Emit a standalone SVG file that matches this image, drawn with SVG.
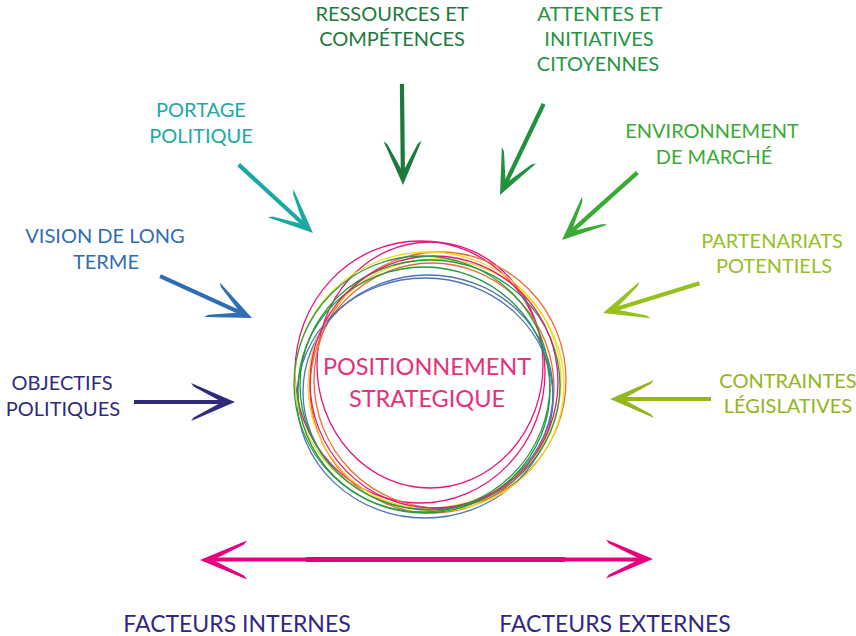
<svg xmlns="http://www.w3.org/2000/svg" xmlns:xlink="http://www.w3.org/1999/xlink" width="856" height="636" viewBox="0 0 856 636">
<style>
text{font-family:Lato,"Noto Sans","Liberation Sans",sans-serif;font-size:20px;text-anchor:middle}
.ring{fill:none;stroke-width:1.3}
.center{font-size:23.5px;fill:#e5317a}
.foot{font-size:23px;fill:#312783}
</style>
<defs>
<g id="arr">
<line x1="-101" y1="0" x2="-11" y2="0" stroke="currentColor" stroke-width="4.2"/>
<polygon points="0,0 -44,-19 -41,-15.2 -13,0 -41,15.2 -44,19" fill="currentColor"/>
</g>
<polygon id="head" points="0,0 -47,-19.5 -44,-15.5 -13,0 -44,15.5 -47,19.5" fill="#e6007e"/>
</defs>
<rect width="856" height="636" fill="#fff"/>

<g id="connectors">
<use xlink:href="#arr" href="#arr" transform="translate(235,402) rotate(0)" style="color:#302a7c"/>
<use xlink:href="#arr" href="#arr" transform="translate(252,318) rotate(24.5)" style="color:#2f6db5"/>
<use xlink:href="#arr" href="#arr" transform="translate(313,233) rotate(42.6)" style="color:#1aa9a2"/>
<use xlink:href="#arr" href="#arr" transform="translate(403,185) rotate(89.4)" style="color:#1b7a3c"/>
<use xlink:href="#arr" href="#arr" transform="translate(500,195) rotate(115.6)" style="color:#1f913f"/>
<use xlink:href="#arr" href="#arr" transform="translate(562,240) rotate(138.2)" style="color:#3aaa35"/>
<use xlink:href="#arr" href="#arr" transform="translate(603,313) rotate(162.8)" style="color:#95c11f"/>
<use xlink:href="#arr" href="#arr" transform="translate(610,399) rotate(180)" style="color:#93b520"/>
<g id="bottom-arrow">
<line x1="212" y1="559.5" x2="641" y2="559.5" stroke="#e6007e" stroke-width="4"/>
<line x1="306" y1="559.5" x2="565" y2="559.5" stroke="#e6007e" stroke-width="5"/>
<use xlink:href="#head" href="#head" transform="translate(200,560) rotate(180)"/>
<use xlink:href="#head" href="#head" transform="translate(653,559)"/>
</g>
</g>

<g id="node-center">
<ellipse class="ring" cx="420" cy="372" rx="125" ry="131" stroke="#e5177b"/>
<ellipse class="ring" cx="430" cy="365" rx="113" ry="123" stroke="#e5177b"/>
<ellipse class="ring" cx="440" cy="380" rx="126" ry="128" stroke="#ec6a2c"/>
<ellipse class="ring" cx="432" cy="388" rx="122" ry="125" stroke="#ec6a2c"/>
<ellipse class="ring" cx="425" cy="398" rx="128" ry="120" stroke="#4f72b8"/>
<ellipse class="ring" cx="428" cy="392" rx="125" ry="117" stroke="#4f72b8"/>
<ellipse class="ring" cx="428" cy="380" rx="133" ry="128" stroke="#f2dc1a"/>
<ellipse class="ring" cx="436" cy="385" rx="128" ry="126" stroke="#f2dc1a"/>
<ellipse class="ring" cx="430" cy="385" rx="130" ry="125" stroke="#1e9a3e"/>
<ellipse class="ring" cx="424" cy="390" rx="126" ry="123" stroke="#1e9a3e"/>
<ellipse class="ring" cx="434" cy="382" rx="124" ry="126" stroke="#e5177b"/>
<ellipse class="ring" cx="422" cy="384" rx="128" ry="128" stroke="#2a9a48"/>
<text class="center" x="427" y="375">POSITIONNEMENT</text>
<text class="center" x="427" y="407">STRATEGIQUE</text>
</g>

<g id="node-ressources" fill="#1b7a3c">
<text x="392" y="21">RESSOURCES ET</text>
<text x="392" y="46">COMPÉTENCES</text>
</g>
<g id="node-attentes" fill="#23953f">
<text x="600" y="21">ATTENTES ET</text>
<text x="599" y="46">INITIATIVES</text>
<text x="598" y="71">CITOYENNES</text>
</g>
<g id="node-portage" fill="#1aa9a2">
<text x="201" y="117">PORTAGE</text>
<text x="201" y="143">POLITIQUE</text>
</g>
<g id="node-vision" fill="#2f6db5">
<text x="105" y="243">VISION DE LONG</text>
<text x="106" y="269">TERME</text>
</g>
<g id="node-objectifs" fill="#302a7c">
<text x="62" y="390">OBJECTIFS</text>
<text x="63" y="416">POLITIQUES</text>
</g>
<g id="node-environnement" fill="#3aaa35">
<text x="712" y="138">ENVIRONNEMENT</text>
<text x="714" y="164">DE MARCHÉ</text>
</g>
<g id="node-partenariats" fill="#95c11f">
<text x="772" y="248">PARTENARIATS</text>
<text x="774" y="273">POTENTIELS</text>
</g>
<g id="node-contraintes" fill="#93b520">
<text x="788" y="388">CONTRAINTES</text>
<text x="788" y="413">LÉGISLATIVES</text>
</g>
<g id="node-facteurs-internes">
<text class="foot" x="237" y="632">FACTEURS INTERNES</text>
</g>
<g id="node-facteurs-externes">
<text class="foot" x="615" y="632">FACTEURS EXTERNES</text>
</g>
</svg>
